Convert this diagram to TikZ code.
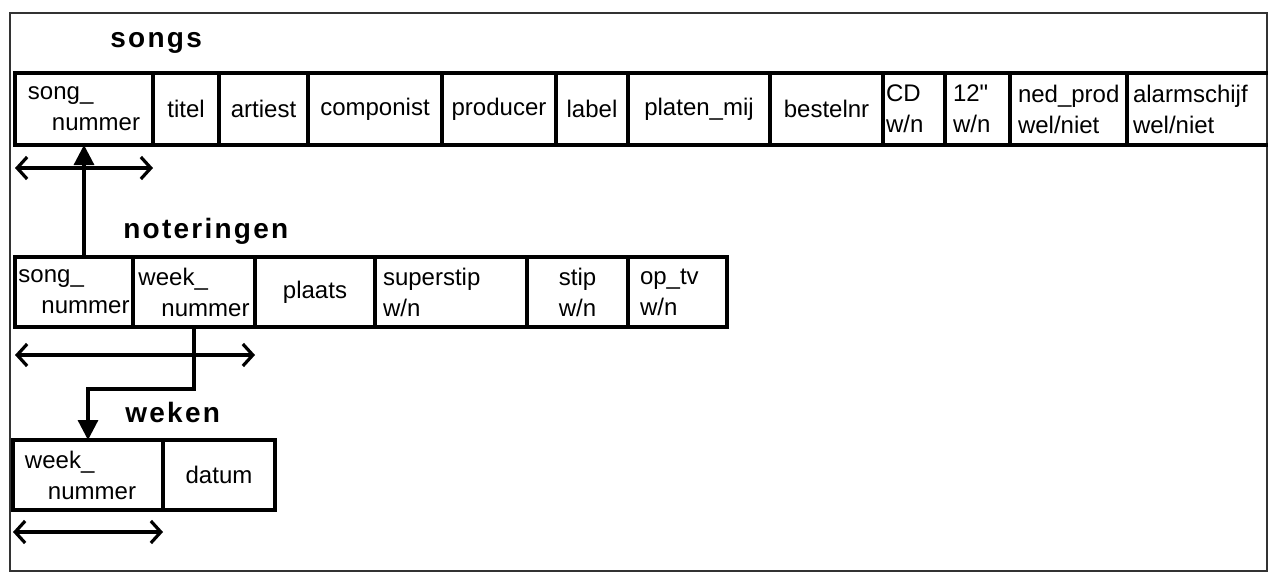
\documentclass[tikz,border=0pt]{standalone}
\usepackage{fontspec}
\setmainfont{Liberation Sans}[Ligatures=TeXOff]
\newfontfamily\titlefont{Liberation Sans}[LetterSpace=8]
\usetikzlibrary{arrows.meta,positioning}

\tikzset{
  cell/.style={draw, line width=1.7pt, inner sep=0pt, outer sep=0pt,
               minimum height=36pt, align=center,
               font=\fontsize{12}{15.5}\selectfont},
  tabtitle/.style={anchor=base west, inner sep=0pt,
                   font=\titlefont\bfseries\fontsize{14}{16}\selectfont},
  keyarrow/.style={line width=1.6pt,
                   {Straight Barb[length=5pt,width=11pt]}-{Straight Barb[length=5pt,width=11pt]}},
  fk/.style={line width=1.6pt, -{Triangle[length=10pt,width=10pt]}},
}

\begin{document}
\begin{tikzpicture}[x=0.5pt, y=-0.5pt]
  \useasboundingbox (0,0) rectangle (1268,584);
  \draw[line width=0.6pt, black!80] (10,13) rectangle (1267,571);

  % songs
  \node[tabtitle] (tsongs) at (110,47) {songs};
  \node[cell, anchor=north west, minimum width=69pt, align=left] (ss1) at (15,73) {song\_\\\hspace*{12pt}nummer};
  \node[cell, right=0pt of ss1, minimum width=33pt] (ss2) {titel};
  \node[cell, right=0pt of ss2, minimum width=44.5pt] (ss3) {artiest};
  \node[cell, right=0pt of ss3, minimum width=67pt] (ss4) {componist};
  \node[cell, right=0pt of ss4, minimum width=57pt] (ss5) {producer};
  \node[cell, right=0pt of ss5, minimum width=36pt] (ss6) {label};
  \node[cell, right=0pt of ss6, minimum width=71pt] (ss7) {platen\_mij};
  \node[cell, right=0pt of ss7, minimum width=56.5pt] (ss8) {bestelnr};
  \node[cell, right=0pt of ss8, minimum width=31pt, text width=28pt, align=left] (ss9) {CD\\w/n};
  \node[cell, right=0pt of ss9, minimum width=32.5pt, text width=24.5pt, align=left] (ss10) {12"\\w/n};
  \node[cell, right=0pt of ss10, minimum width=58.5pt, text width=50.5pt, align=left] (ss11) {ned\_prod\\wel/niet};
  \node[cell, right=0pt of ss11, minimum width=72.5pt, text width=66.5pt, align=left] (ss12) {alarmschijf\\wel/niet};
  \draw[keyarrow] ([yshift=-11.5pt]ss1.south west) -- ([yshift=-11.5pt]ss1.south east);

  % noteringen
  \node[tabtitle] (tnot) at (123,238) {noteringen};
  \node[cell, anchor=north west, minimum height=35pt, minimum width=59pt, align=left] (ns1) at (15,257) {song\_\\\hspace*{11.5pt}nummer};
  \node[cell, right=0pt of ns1, minimum height=35pt, minimum width=61pt, align=left] (ns2) {week\_\\\hspace*{11.5pt}nummer};
  \node[cell, right=0pt of ns2, minimum height=35pt, minimum width=60pt] (ns3) {plaats};
  \node[cell, right=0pt of ns3, minimum height=35pt, minimum width=76pt, text width=68pt, align=left] (ns4) {superstip\\w/n};
  \node[cell, right=0pt of ns4, minimum height=35pt, minimum width=50.5pt] (ns5) {stip\\w/n};
  \node[cell, right=0pt of ns5, minimum height=35pt, minimum width=49.5pt, text width=37.5pt, align=left] (ns6) {op\_tv\\w/n};
  \draw[keyarrow] ([yshift=-14pt]ns1.south west) -- ([yshift=-14pt]ns2.south east);

  % weken
  \node[tabtitle] (twek) at (125,422) {weken};
  \node[cell, anchor=north west, minimum height=35pt, minimum width=75pt, text width=63pt, align=left] (ws1) at (13,440) {week\_\\\hspace*{11.5pt}nummer};
  \node[cell, right=0pt of ws1, minimum height=35pt, minimum width=56pt] (ws2) {datum};
  \draw[keyarrow] ([yshift=-11pt]ws1.south west) -- ([yshift=-11pt]ws1.south east);

  % verwijzingen
  \draw[fk] (ns1.north -| ss1.south) -- (ss1.south);
  \draw[fk] (ns2.south) -- ++(0,62) -| (ws1.north);
\end{tikzpicture}
\end{document}
